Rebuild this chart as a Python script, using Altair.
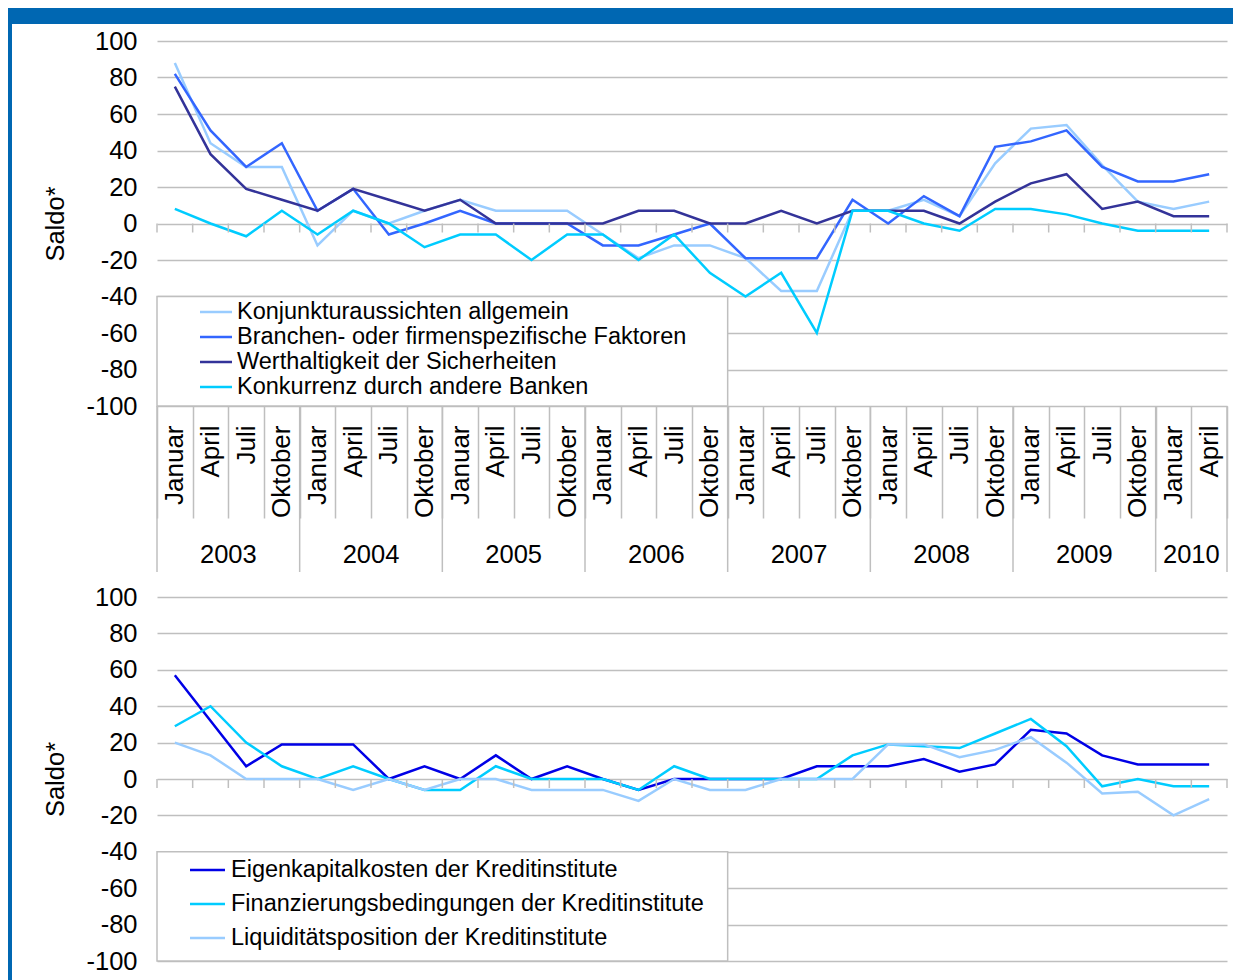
import altair as alt
import pandas as pd

# ---------------- data ----------------
years = ["2003", "2004", "2005", "2006", "2007", "2008", "2009", "2010"]
months = ["Januar", "April", "Juli", "Oktober"]
cats = [f"{y} {m}" for y in years[:-1] for m in months] + ["2010 Januar", "2010 April"]

top_names = [
    "Konjunkturaussichten allgemein",
    "Branchen- oder firmenspezifische Faktoren",
    "Werthaltigkeit der Sicherheiten",
    "Konkurrenz durch andere Banken",
]
top_colors = ["#99CCFF", "#3366FF", "#333399", "#00CCFF"]
konjunktur = [88, 44, 31, 31, -12, 7, 0, 7, 13, 7, 7, 7, -6, -19, -12, -12, -19, -37, -37, 7,
              7, 13, 4, 33, 52, 54, 32, 12, 8, 12]
branchen = [82, 51, 31, 44, 7, 19, -6, 0, 7, 0, 0, 0, -12, -12, -6, 0, -19, -19, -19, 13,
            0, 15, 4, 42, 45, 51, 31, 23, 23, 27]
werthaltigkeit = [75, 38, 19, 13, 7, 19, 13, 7, 13, 0, 0, 0, 0, 7, 7, 0, 0, 7, 0, 7,
                  7, 7, 0, 12, 22, 27, 8, 12, 4, 4]
konkurrenz = [8, 0, -7, 7, -6, 7, 0, -13, -6, -6, -20, -6, -6, -20, -6, -27, -40, -27, -60, 7,
              7, 0, -4, 8, 8, 5, 0, -4, -4, -4]

bottom_names = [
    "Eigenkapitalkosten der Kreditinstitute",
    "Finanzierungsbedingungen der Kreditinstitute",
    "Liquiditätsposition der Kreditinstitute",
]
bottom_colors = ["#0000E6", "#00CCFF", "#99CCFF"]
eigenkapital = [57, 32, 7, 19, 19, 19, 0, 7, 0, 13, 0, 7, 0, -6, 0, 0, 0, 0, 7, 7,
                7, 11, 4, 8, 27, 25, 13, 8, 8, 8]
finanzierung = [29, 40, 20, 7, 0, 7, 0, -6, -6, 7, 0, 0, 0, -6, 7, 0, 0, 0, 0, 13,
                19, 18, 17, 25, 33, 18, -4, 0, -4, -4]
liquiditaet = [20, 13, 0, 0, 0, -6, 0, -6, 0, 0, -6, -6, -6, -12, 0, -6, -6, 0, 0, 0,
               19, 19, 12, 16, 23, 9, -8, -7, -20, -11]

y_ticks = list(range(-100, 101, 20))


def long_df(names, series):
    rows = []
    for name, vals in zip(names, series):
        for i, (c, v) in enumerate(zip(cats, vals)):
            rows.append({"cat": c, "idx": i, "series": name, "value": v})
    return pd.DataFrame(rows)


df_top = long_df(top_names, [konjunktur, branchen, werthaltigkeit, konkurrenz])
df_bottom = long_df(bottom_names, [eigenkapital, finanzierung, liquiditaet])

df_cats = pd.DataFrame({"cat": cats, "zero": [0] * len(cats)})
df_last = pd.DataFrame({"cat": [cats[-1]], "zero": [0]})
df_year_start = pd.DataFrame({"cat": [f"{y} Januar" for y in years]})
df_year_label = pd.DataFrame({
    "cat": [f"{y} Juli" for y in years[:-1]] + ["2010 April"],
    "year": years,
})
df_box = pd.DataFrame({"c1": [cats[0]], "c2": [cats[16]], "v1": [-40], "v2": [-100]})
df_one = pd.DataFrame({"a": [0]})

# ---------------- styles ----------------
FONT = "Liberation Sans"
GRID = "#BFBFBF"
FRAME = "#0067B2"

xscale = alt.Scale(domain=cats, paddingInner=0, paddingOuter=0)
yscale = alt.Scale(domain=[-100, 100], nice=False)

xaxis_top = alt.Axis(
    title=None, labelAngle=270, labelAlign="right", labelBaseline="middle",
    labelExpr="split(datum.label, ' ')[1]", labelFontSize=26, labelFont=FONT,
    labelColor="black", labelOverlap=False, labelPadding=-93,
    tickBand="extent", tickSize=112, tickColor=GRID, tickWidth=1.5,
    domain=False, grid=False,
)


def yaxis():
    return alt.Axis(
        values=y_ticks, labelExpr="'' + datum.value",
        title="Saldo*", titleX=-102, titleAngle=270,
        titleAlign="center", titleBaseline="middle", titleFontSize=25.5,
        titleFont=FONT, titleFontWeight="normal", titleColor="black",
        labelFontSize=25.5, labelFont=FONT, labelColor="black", labelPadding=20,
        ticks=False, domain=False, grid=True, gridColor=GRID, gridWidth=1.5,
    )


def panel(df, names, colors, legend, xaxis, height):
    def X(field="cat:N", band=None):
        if band is None:
            return alt.X(field, scale=xscale, axis=xaxis)
        return alt.X(field, scale=xscale, axis=xaxis, bandPosition=band)

    def Y(field):
        ax = yaxis()
        ax.titleY = height / 2
        return alt.Y(field, scale=yscale, axis=ax)

    box = alt.Chart(df_box).mark_rect(fill="white", stroke=GRID, strokeWidth=1.5).encode(
        x=X("c1:N", 0), x2=alt.X2("c2", bandPosition=0), y=Y("v1:Q"), y2="v2"
    )
    lines = alt.Chart(df).mark_line(strokeWidth=2.5).encode(
        x=X(),
        y=Y("value:Q"),
        color=alt.Color("series:N", scale=alt.Scale(domain=names, range=colors), legend=legend),
        order=alt.Order("idx:Q"),
    )
    zt = alt.Chart(df_cats).mark_rule(color=GRID, strokeWidth=1.5, y2Offset=9).encode(
        x=X("cat:N", 0), y=Y("zero:Q"), y2="zero"
    )
    zt_end = alt.Chart(df_last).mark_rule(color=GRID, strokeWidth=1.5, y2Offset=9).encode(
        x=X("cat:N", 1), y=Y("zero:Q"), y2="zero"
    )
    return [box, lines, zt, zt_end], X


legend_top = alt.Legend(
    orient="none", legendX=0, legendY=259, title=None,
    symbolType="M-1.5,0H1.5", symbolSize=455, symbolStrokeWidth=2.5,
    symbolOffset=47, labelOffset=9, labelFontSize=23.5, labelFont=FONT,
    labelColor="black", labelLimit=1000, rowPadding=1, padding=0,
)
legend_bottom = alt.Legend(
    orient="none", legendX=0, legendY=260, title=None,
    symbolType="M-1.5,0H1.5", symbolSize=544, symbolStrokeWidth=2.5,
    symbolOffset=37.5, labelOffset=10.5, labelFontSize=23.5, labelFont=FONT,
    labelColor="black", labelLimit=1000, rowPadding=9, padding=0,
)

H_TOP = 365
H_BOT = 364

top_layers, Xt = panel(df_top, top_names, top_colors, legend_top, xaxis_top, H_TOP)

frame_top = alt.Chart(df_one).mark_rect(color=FRAME).encode(
    x=alt.value(-149), x2=alt.value(1076), y=alt.value(-33), y2=alt.value(-17)
)
frame_left = alt.Chart(df_one).mark_rect(color=FRAME).encode(
    x=alt.value(-149), x2=alt.value(-145), y=alt.value(-33), y2=alt.value(939)
)
year_sep = alt.Chart(df_year_start).mark_rule(color=GRID, strokeWidth=1.5).encode(
    x=Xt("cat:N", 0), y=alt.value(H_TOP), y2=alt.value(H_TOP + 166)
)
year_sep_end = alt.Chart(df_last).mark_rule(color=GRID, strokeWidth=1.5).encode(
    x=Xt("cat:N", 1), y=alt.value(H_TOP), y2=alt.value(H_TOP + 166)
)
year_text = alt.Chart(df_year_label).mark_text(
    font=FONT, fontSize=25.5, color="black", align="center", baseline="middle"
).encode(x=Xt("cat:N", 0), y=alt.value(H_TOP + 149), text="year:N")

top = alt.layer(
    frame_top, frame_left, *top_layers, year_sep, year_sep_end, year_text
).properties(width=1070, height=H_TOP)

bottom_layers, Xb = panel(df_bottom, bottom_names, bottom_colors, legend_bottom, None, H_BOT)
bottom = alt.layer(*bottom_layers).properties(width=1070, height=H_BOT)

chart = (
    alt.vconcat(top, bottom, spacing=191, bounds="flush", padding=0)
    .resolve_scale(color="independent")
    .configure(background="white", font=FONT)
    .configure_view(strokeWidth=0)
)

chart.save("out.html", embed_options={"renderer": "svg", "actions": False})
